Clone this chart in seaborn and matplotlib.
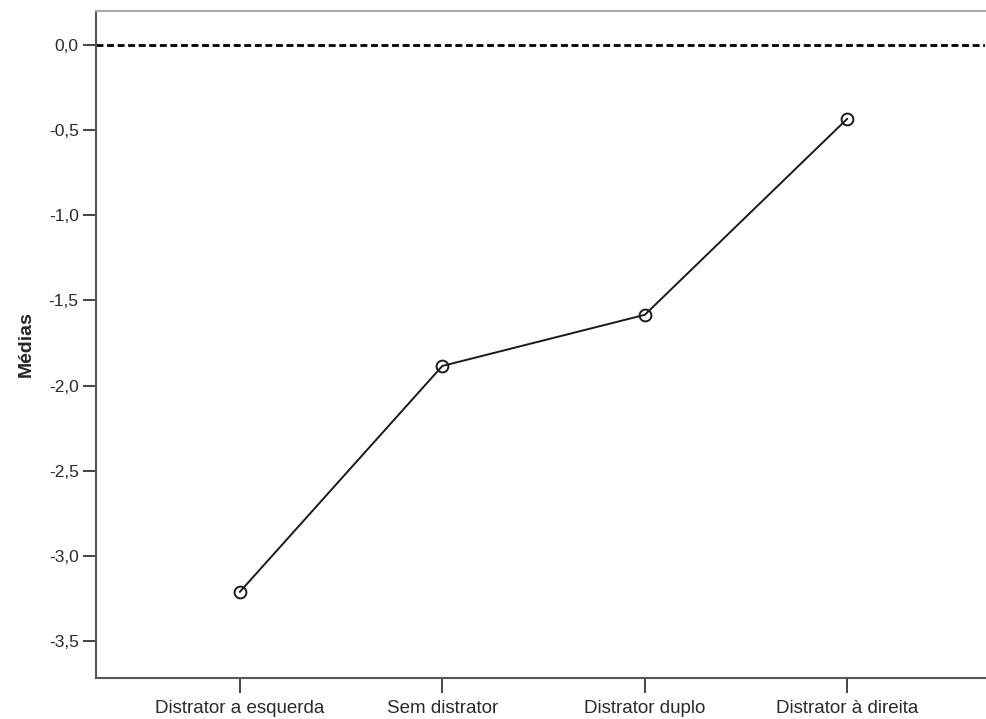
import matplotlib
matplotlib.use('Agg')
import matplotlib.pyplot as plt
import seaborn as sns
import pandas as pd

conditions = ['Distrator a esquerda', 'Sem distrator', 'Distrator duplo', 'Distrator à direita']
means = [-3.21, -1.885, -1.585, -0.435]
y_ticks = [0.0, -0.5, -1.0, -1.5, -2.0, -2.5, -3.0, -3.5]

sns.set_style('white')
plt.rcParams['font.family'] = ['Liberation Sans', 'DejaVu Sans']

df = pd.DataFrame({'cond': conditions, 'media': means})

fig = plt.figure(figsize=(9.86, 7.19), dpi=100)
ax = fig.add_axes([0.0974, 0.057, 0.9016, 0.928])

ax.axhline(0.0, color='black', lw=2.0, ls=(0, (2.5, 1.3)), zorder=1)
sns.lineplot(data=df, x='cond', y='media', sort=False, color='#1a1a1a', lw=1.4,
             marker='o', markersize=8.5, markerfacecolor='none',
             markeredgecolor='#1a1a1a', markeredgewidth=1.4, ax=ax, zorder=3)

ax.set_xlim(-0.71, 3.68)
ax.set_ylim(-3.715, 0.198)
ax.set_yticks(y_ticks)
ax.set_yticklabels([f'{v:.1f}'.replace('.', ',') for v in y_ticks])
ax.set_xlabel('')
ax.set_ylabel('Médias', fontsize=14, fontweight='bold', labelpad=10)

ax.tick_params(axis='both', bottom=True, left=True, direction='out', length=9.5,
               width=1.4, color='#444444', labelcolor='#2a2a2a')
ax.tick_params(axis='y', labelsize=12.5, pad=3)
ax.tick_params(axis='x', length=10.5, labelsize=13.5, pad=5)
for side in ['left', 'bottom']:
    ax.spines[side].set_color('#555555')
    ax.spines[side].set_linewidth(1.5)
ax.spines['top'].set_color('#aaaaaa')
ax.spines['top'].set_linewidth(1.5)
ax.spines['right'].set_visible(False)
ax.grid(False)

fig.savefig('out.png', dpi=100)
